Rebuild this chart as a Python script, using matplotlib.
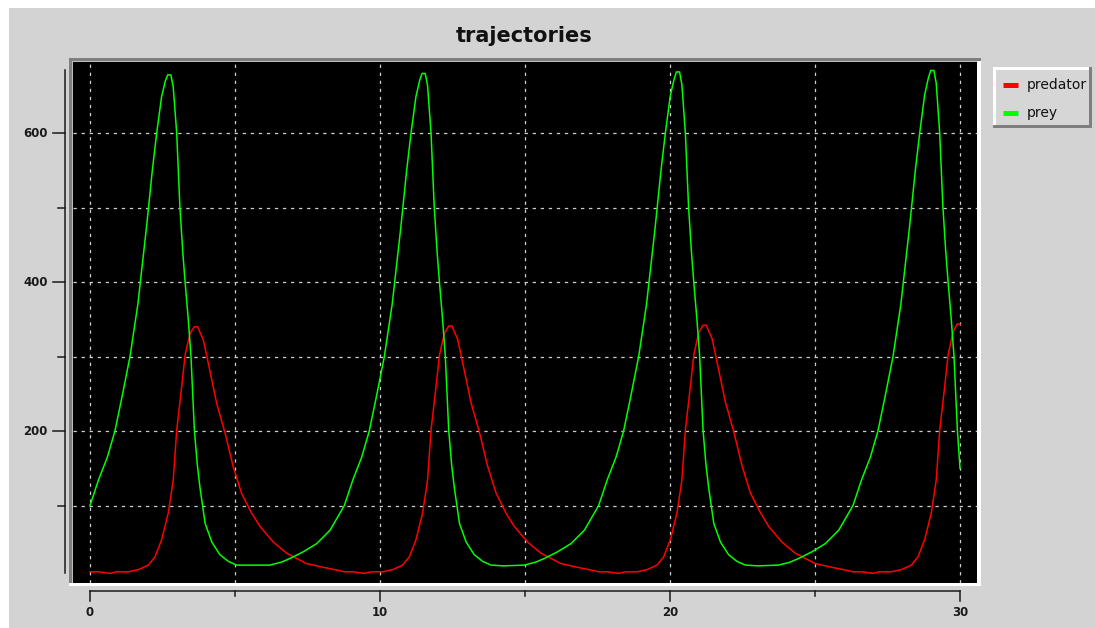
import matplotlib
matplotlib.use('Agg')
import matplotlib.pyplot as plt
from matplotlib.patches import Rectangle
from matplotlib.lines import Line2D
from matplotlib.transforms import IdentityTransform, blended_transform_factory

plt.rcParams['lines.scale_dashes'] = False

# prey trajectory (time, value)
t_prey = [0.00, 0.30, 0.60, 0.86, 1.10, 1.38, 1.65, 1.95, 2.15, 2.30, 2.47, 2.60, 2.68, 2.79, 2.87, 2.99,
          3.10, 3.20, 3.28, 3.39, 3.48, 3.60, 3.70, 3.79, 3.97, 4.20, 4.48, 4.77, 5.06, 5.50, 6.20, 6.60,
          6.90, 7.36, 7.82, 8.28, 8.68,
          8.77, 9.07, 9.37, 9.63, 9.87, 10.15, 10.42, 10.72, 10.92, 11.07, 11.24, 11.37, 11.45, 11.56, 11.64,
          11.76, 11.87, 11.97, 12.05, 12.16, 12.25, 12.37, 12.47, 12.56, 12.74, 12.97, 13.25, 13.54, 13.83,
          14.27, 14.97, 15.37, 15.67, 16.13, 16.59, 17.05, 17.45,
          17.54, 17.84, 18.14, 18.40, 18.64, 18.92, 19.19, 19.49, 19.69, 19.84, 20.01, 20.14, 20.22, 20.33,
          20.41, 20.53, 20.64, 20.74, 20.82, 20.93, 21.02, 21.14, 21.24, 21.33, 21.51, 21.74, 22.02, 22.31,
          22.60, 23.04, 23.74, 24.14, 24.44, 24.90, 25.36, 25.82, 26.22,
          26.31, 26.61, 26.91, 27.17, 27.41, 27.69, 27.96, 28.26, 28.46, 28.61, 28.78, 28.91, 28.99, 29.10,
          29.18, 29.30, 29.41, 29.51, 29.59, 29.70, 29.79, 29.91, 30.00]
prey = [100, 135, 165, 200, 245, 300, 370, 474, 550, 600, 649, 670, 678, 678, 662, 600,
        501, 440, 400, 349, 302, 201, 155, 125, 76, 51, 34, 25, 20, 20, 20, 24,
        29, 38, 49, 67, 94,
        100, 135, 165, 200, 245, 300, 370, 474, 550, 600, 649, 671, 680, 680, 664,
        600, 501, 440, 400, 349, 302, 201, 155, 125, 76, 51, 34, 25, 20,
        19, 20, 24, 29, 38, 49, 67, 94,
        100, 135, 165, 200, 245, 300, 370, 474, 550, 600, 650, 672, 682, 682,
        665, 600, 501, 440, 400, 349, 302, 201, 155, 125, 76, 51, 34, 25,
        20, 19, 20, 24, 29, 38, 49, 67, 94,
        100, 135, 165, 200, 245, 300, 370, 474, 550, 600, 651, 674, 684, 684,
        667, 600, 501, 440, 400, 349, 302, 201, 150]

# predator trajectory
t_pred = [0.00, 0.30, 0.69, 0.92, 1.32, 1.67, 2.01, 2.24, 2.47, 2.70, 2.87, 2.99, 3.16, 3.28, 3.45, 3.60,
          3.71, 3.91, 4.08, 4.37, 4.66, 4.94, 5.23, 5.57, 5.86, 6.32, 6.78, 7.47, 8.05, 8.62,
          8.77, 9.07, 9.46, 9.69, 10.09, 10.44, 10.78, 11.01, 11.24, 11.47, 11.64, 11.76, 11.93, 12.05,
          12.22, 12.37, 12.48, 12.68, 12.85, 13.14, 13.43, 13.71, 14.00, 14.34, 14.63, 15.09, 15.55,
          16.24, 16.82, 17.39,
          17.54, 17.84, 18.23, 18.46, 18.86, 19.21, 19.55, 19.78, 20.01, 20.24, 20.41, 20.53, 20.70, 20.82,
          20.99, 21.14, 21.25, 21.45, 21.62, 21.91, 22.20, 22.48, 22.77, 23.11, 23.40, 23.86, 24.32,
          25.01, 25.59, 26.16,
          26.31, 26.61, 27.00, 27.23, 27.63, 27.98, 28.32, 28.55, 28.78, 29.01, 29.18, 29.30, 29.47, 29.59,
          29.76, 29.91, 30.00]
predator = [11, 11, 9, 11, 11, 14, 20, 31, 54, 90, 134, 201, 259, 302, 331, 340,
            340, 322, 291, 237, 197, 152, 116, 90, 72, 51, 36, 22, 17, 12.5,
            11, 11, 9, 11, 11, 14, 20, 31, 54, 90, 134, 201, 259, 302,
            331, 341, 341, 323, 292, 238, 198, 153, 117, 90, 72, 51, 36,
            22, 17, 12.5,
            11, 11, 9, 11, 11, 14, 20, 31, 54, 90, 134, 201, 259, 302,
            332, 342, 342, 324, 293, 239, 199, 154, 117, 91, 72, 51, 36,
            22, 17, 12.5,
            11, 11, 9, 11, 11, 14, 20, 31, 54, 90, 134, 201, 259, 302,
            333, 344, 343]

x_major = [0, 10, 20, 30]
x_minor = [5, 15, 25]
y_major = [200, 400, 600]
y_minor = [100, 300, 500]
series_names = ['predator', 'prey']
series_colors = ['#ff0000', '#00ff00']

W, H = 1095, 628
bg = '#d3d3d3'
fig = plt.figure(figsize=(W / 100, H / 100), dpi=100, facecolor='white')
px = IdentityTransform()

def dy(py):
    return H - py

# grey page
fig.add_artist(Rectangle((9, 0), W - 9, dy(8), transform=px, facecolor=bg, edgecolor='none', zorder=-5))

ax = fig.add_axes([72.5 / W, 1 - 583 / H, (977 - 72.5) / W, (583 - 61.5) / H])
ax.set_facecolor('black')
for s in ax.spines.values():
    s.set_visible(False)
ax.set_xlim(-0.603, 30.586)
ax.set_ylim(-4.0, 696)
ax.set_xticks(sorted(x_major + x_minor))
ax.set_yticks(sorted(y_major + y_minor))
ax.tick_params(length=0, labelbottom=False, labelleft=False)
ax.grid(True, color='#cfcfcf', linestyle=(0, (2.4, 3.4)), linewidth=0.9)

ax.plot(t_pred, predator, color=series_colors[0], linewidth=1.1)
ax.plot(t_prey, prey, color=series_colors[1], linewidth=1.1)

# sunken frame round the plot area
fig.add_artist(Rectangle((69, dy(61)), 912, 3, transform=px, facecolor='#7f7f7f', edgecolor='none'))
fig.add_artist(Rectangle((69, dy(586)), 3, 528, transform=px, facecolor='#7f7f7f', edgecolor='none'))
fig.add_artist(Rectangle((72, dy(62)), 905, 1, transform=px, facecolor='#bdbdbd', edgecolor='none'))
fig.add_artist(Rectangle((72, dy(583)), 1, 521, transform=px, facecolor='#bdbdbd', edgecolor='none'))
fig.add_artist(Rectangle((69, dy(586)), 912, 3, transform=px, facecolor='white', edgecolor='none'))
fig.add_artist(Rectangle((977, dy(586)), 4, 525, transform=px, facecolor='white', edgecolor='none'))

# y axis (separate line on the left)
ty = blended_transform_factory(px, ax.transData)
ax.add_line(Line2D([65, 65], [min(prey + predator), max(prey + predator)], transform=ty,
                   color='#1a1a1a', linewidth=1.1, clip_on=False))
for v in y_major:
    ax.add_line(Line2D([53, 65], [v, v], transform=ty, color='#1a1a1a', linewidth=1.1, clip_on=False))
    ax.text(48, v, str(v), transform=ty, ha='right', va='center', fontsize=8.5,
            fontweight='bold', color='#1a1a1a', clip_on=False)
for v in y_minor:
    ax.add_line(Line2D([58, 65], [v, v], transform=ty, color='#1a1a1a', linewidth=1.1, clip_on=False))

# x axis (separate line below)
tx = blended_transform_factory(ax.transData, px)
ax.add_line(Line2D([x_major[0], x_major[-1]], [dy(590.5), dy(590.5)], transform=tx,
                   color='#1a1a1a', linewidth=1.1, clip_on=False))
for v in x_major:
    ax.add_line(Line2D([v, v], [dy(590.5), dy(600.5)], transform=tx, color='#1a1a1a', linewidth=1.1, clip_on=False))
    ax.text(v, dy(613), str(v), transform=tx, ha='center', va='center', fontsize=8.5,
            fontweight='bold', color='#1a1a1a', clip_on=False)
for v in x_minor:
    ax.add_line(Line2D([v, v], [dy(590.5), dy(596)], transform=tx, color='#1a1a1a', linewidth=1.1, clip_on=False))

fig.text(524.5, dy(36), 'trajectories', transform=px, ha='center', va='center',
         fontsize=15, fontweight='bold', color='#111111')

# legend with raised border
lx0, ly0, lx1, ly1 = 993, 67, 1092, 128
fig.add_artist(Rectangle((lx0, dy(ly1)), lx1 - lx0, ly1 - ly0, transform=px, facecolor='#d6d6d6', edgecolor='none'))
fig.add_artist(Rectangle((lx0, dy(ly0 + 3)), lx1 - lx0, 3, transform=px, facecolor='white', edgecolor='none'))
fig.add_artist(Rectangle((lx0, dy(ly1)), 3, ly1 - ly0, transform=px, facecolor='white', edgecolor='none'))
fig.add_artist(Rectangle((lx0, dy(ly1)), lx1 - lx0, 3, transform=px, facecolor='#7f7f7f', edgecolor='none'))
fig.add_artist(Rectangle((lx1 - 3, dy(ly1)), 3, ly1 - ly0, transform=px, facecolor='#7f7f7f', edgecolor='none'))
for name, col, yy in zip(series_names, series_colors, [84.5, 112.5]):
    fig.add_artist(Line2D([1003, 1018], [dy(yy), dy(yy)], transform=px, color=col, linewidth=3.6,
                          solid_capstyle='butt'))
    fig.text(1027, dy(yy), name, transform=px, ha='left', va='center', fontsize=10, color='#111111')

fig.savefig('out.png', dpi=100, facecolor=fig.get_facecolor())
